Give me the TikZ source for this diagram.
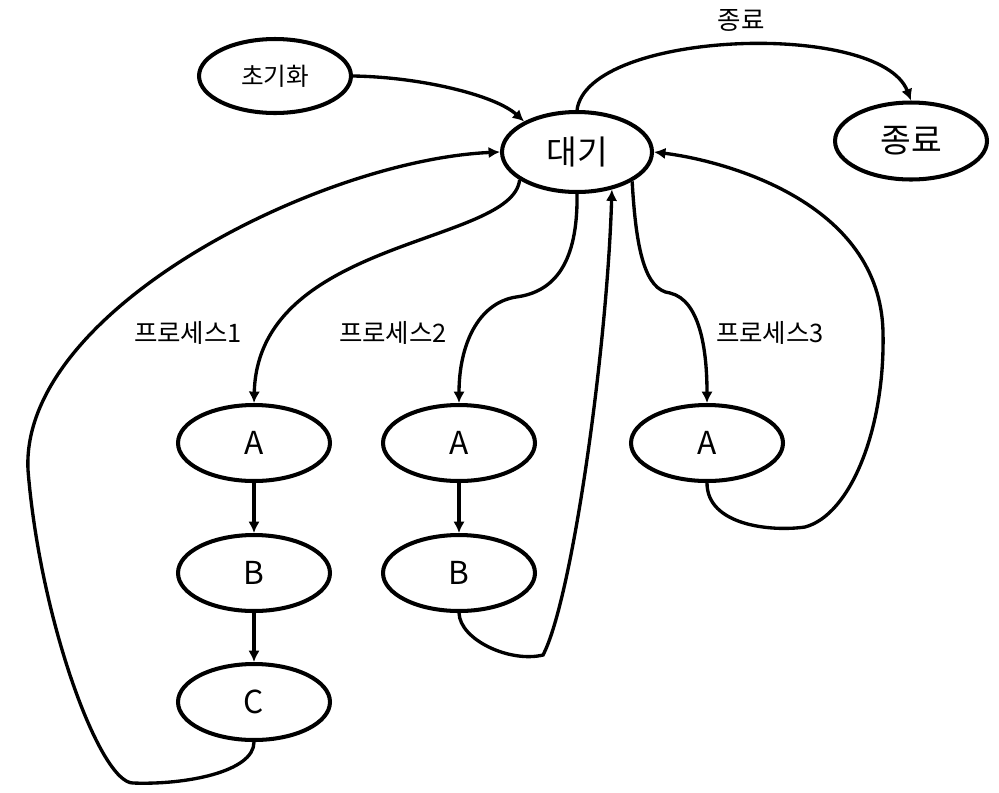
\documentclass[tikz,border=0pt]{standalone}
\usepackage{fontspec}
\setmainfont{Noto Sans CJK KR}
\usetikzlibrary{arrows.meta,shapes.geometric}
\begin{document}
\begin{tikzpicture}[x=0.02cm,y=-0.02cm,
  st/.style={ellipse,draw,line width=2.3pt,inner sep=0pt,minimum width=3.04cm,minimum height=1.52cm},
  big/.style={font=\fontsize{19}{22}\selectfont},
  mid/.style={font=\fontsize{18}{21}\selectfont},
  lab/.style={font=\fontsize{14.5}{17}\selectfont,inner sep=0pt},
  conn/.style={line width=1.9pt,-{Latex[length=6.5pt,width=6.5pt]}}]
\useasboundingbox (0,0) rectangle (999,792);
\fill[white] (0,0) rectangle (999,792);

% nodes
\node[st,minimum height=1.48cm,font=\fontsize{14}{17}\selectfont] (init) at (275,76) {초기화};
\node[st,minimum width=3.0cm,minimum height=1.6cm,big] (wait) at (577,152) {대기};
\node[st,minimum height=1.54cm,big] (end) at (911,141) {종료};
\node[st,mid] (a1) at (254,443) {A};
\node[st,mid] (b1) at (254,573) {B};
\node[st,mid] (c1) at (254,702) {C};
\node[st,mid] (a2) at (459,443) {A};
\node[st,mid] (b2) at (459,573) {B};
\node[st,mid] (a3) at (707,443) {A};

% labels
\node[lab] (lend) at (741,20) {종료};
\node[lab] (lp1) at (188,333) {프로세스1};
\node[lab] (lp2) at (393,333) {프로세스2};
\node[lab] (lp3) at (770,333) {프로세스3};

% connectors
\draw[conn] (init.east) .. controls (420,77) and (495,95) .. (wait.150);
\draw[conn] (wait.north) .. controls (588,30) and (880,20) .. (end.north);

\draw[conn] (c1.south) .. controls (254,772) and (185,785) .. (133,783)
  .. controls (100,783) and (40,620) .. (28,470)
  .. controls (20,310) and (320,160) .. (wait.west);

\draw[conn] (wait.-154) .. controls (512,245) and (258,238) .. (a1.north);
\draw[conn] (a1.south) -- (b1.north);
\draw[conn] (b1.south) -- (c1.north);

\draw[conn] (wait.south) .. controls (578,262) and (555,292) .. (516,297)
  .. controls (478,303) and (459,345) .. (a2.north);
\draw[conn] (a2.south) -- (b2.north);
\draw[conn] (b2.south) .. controls (460,640) and (510,663) .. (543,655)
  .. controls (572,600) and (607,350) .. (wait.-47);

\draw[conn] (wait.-28) .. controls (636,250) and (645,290) .. (670,293)
  .. controls (700,300) and (707,350) .. (a3.north);
\draw[conn] (a3.south) .. controls (707,525) and (770,532) .. (805,527)
  .. controls (850,515) and (885,430) .. (883,333)
  .. controls (881,200) and (720,160) .. (wait.east);
\end{tikzpicture}
\end{document}
